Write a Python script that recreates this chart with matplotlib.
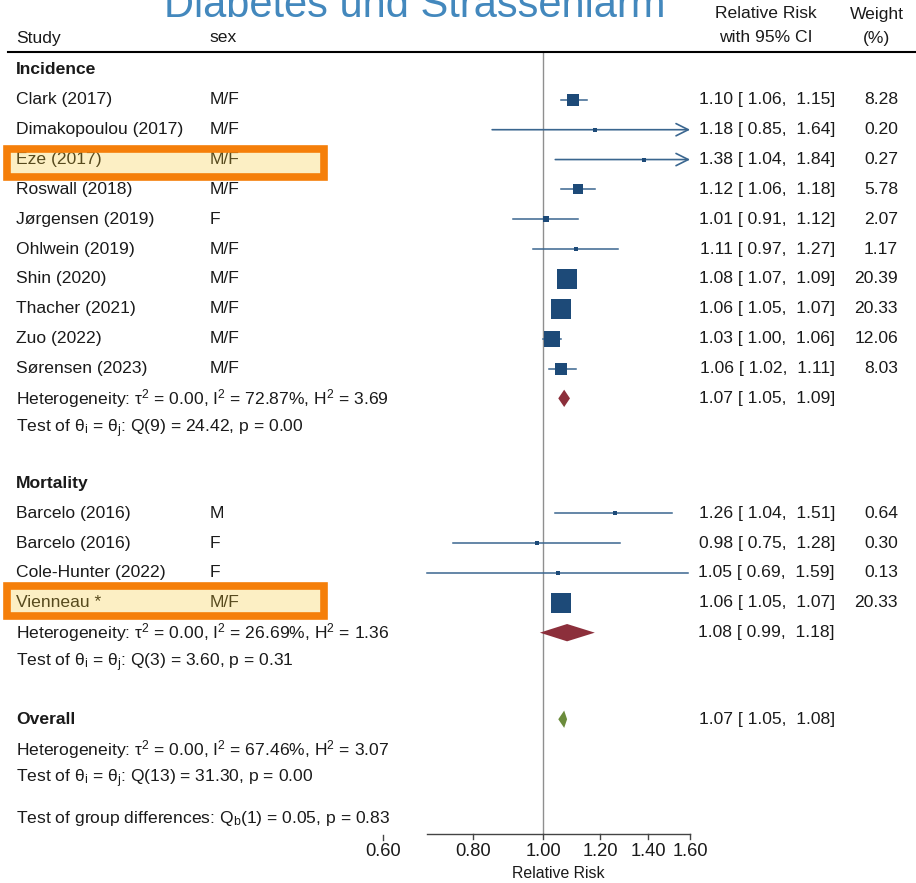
import numpy as np
import matplotlib.pyplot as plt
from matplotlib.patches import Polygon, Rectangle
from matplotlib.transforms import blended_transform_factory

plt.rcParams['font.family'] = ['Liberation Sans', 'DejaVu Sans']
plt.rcParams['mathtext.fontset'] = 'custom'
plt.rcParams['mathtext.rm'] = 'Liberation Sans'
plt.rcParams['mathtext.it'] = 'Liberation Sans:italic'
plt.rcParams['mathtext.default'] = 'regular'


# ---- incidence studies
inc_study = ["Clark (2017)", "Dimakopoulou (2017)", "Eze (2017)", "Roswall (2018)",
             "Jørgensen (2019)", "Ohlwein (2019)", "Shin (2020)", "Thacher (2021)",
             "Zuo (2022)", "Sørensen (2023)"]
inc_sex = ["M/F", "M/F", "M/F", "M/F", "F", "M/F", "M/F", "M/F", "M/F", "M/F"]
inc_rr = [1.10, 1.18, 1.38, 1.12, 1.01, 1.11, 1.08, 1.06, 1.03, 1.06]
inc_lo = [1.06, 0.85, 1.04, 1.06, 0.91, 0.97, 1.07, 1.05, 1.00, 1.02]
inc_hi = [1.15, 1.64, 1.84, 1.18, 1.12, 1.27, 1.09, 1.07, 1.06, 1.11]
inc_wt = [8.28, 0.20, 0.27, 5.78, 2.07, 1.17, 20.39, 20.33, 12.06, 8.03]
inc_pool = [1.07, 1.05, 1.09]
inc_het = r"Heterogeneity: $\tau^2$ = 0.00, I$^2$ = 72.87%, H$^2$ = 3.69"
inc_test = r"Test of $\theta_i$ = $\theta_j$: Q(9) = 24.42, p = 0.00"

# ---- mortality studies
mort_study = ["Barcelo (2016)", "Barcelo (2016)", "Cole-Hunter (2022)", "Vienneau *"]
mort_sex = ["M", "F", "F", "M/F"]
mort_rr = [1.26, 0.98, 1.05, 1.06]
mort_lo = [1.04, 0.75, 0.69, 1.05]
mort_hi = [1.51, 1.28, 1.59, 1.07]
mort_wt = [0.64, 0.30, 0.13, 20.33]
mort_pool = [1.08, 0.99, 1.18]
mort_het = r"Heterogeneity: $\tau^2$ = 0.00, I$^2$ = 26.69%, H$^2$ = 1.36"
mort_test = r"Test of $\theta_i$ = $\theta_j$: Q(3) = 3.60, p = 0.31"

# ---- overall
all_pool = [1.07, 1.05, 1.08]
all_het = r"Heterogeneity: $\tau^2$ = 0.00, I$^2$ = 67.46%, H$^2$ = 3.07"
all_test = r"Test of $\theta_i$ = $\theta_j$: Q(13) = 31.30, p = 0.00"
grp_test = r"Test of group differences: Q$_b$(1) = 0.05, p = 0.83"

highlight = ["Eze (2017)", "Vienneau *"]

x_ticks = [0.80, 1.00, 1.20, 1.40, 1.60]
x_extra_tick = 0.60
x_max = 1.60

NAVY = "#1d4a78"
LINE = "#3a668f"
TXT = "#1a1a1a"
FS = 12.6

# ---- page geometry (pixels)
W, H = 916, 883
ROW_PX = 29.85
ROW0_PX = 70
PX_PER_LN = 313
ONE_PX = 543

fig = plt.figure(figsize=(W / 100, H / 100), dpi=100)
ax = fig.add_axes([0, 0, 1, 1])
ax.set_xscale('log')
ax.set_xlim(np.exp(-ONE_PX / PX_PER_LN), np.exp((W - ONE_PX) / PX_PER_LN))
ax.set_ylim((H - ROW0_PX) / ROW_PX, -ROW0_PX / ROW_PX)
ax.axis('off')
tr = blended_transform_factory(ax.transAxes, ax.transData)


def px(x):
    return x / W


def row_of(ypx):
    return (ypx - ROW0_PX) / ROW_PX


def ci_text(rr, lo, hi):
    return f"{rr:.2f} [ {lo:.2f},  {hi:.2f}]"


def draw_study(y, name, sex, rr, lo, hi, wt):
    ax.text(px(16), y, name, transform=tr, fontsize=FS, color=TXT, va='center')
    ax.text(px(210), y, sex, transform=tr, fontsize=FS, color=TXT, va='center')
    ax.text(px(835), y, ci_text(rr, lo, hi), transform=tr,
            fontsize=FS, color=TXT, va='center', ha='right')
    ax.text(px(898), y, f"{wt:.2f}", transform=tr, fontsize=FS, color=TXT,
            va='center', ha='right')
    if hi > x_max:
        ax.annotate('', xy=(x_max, y), xytext=(lo, y),
                    arrowprops=dict(arrowstyle='->', color=LINE, lw=1.2,
                                    shrinkA=0, shrinkB=0, mutation_scale=22))
    else:
        ax.plot([lo, hi], [y, y], color=LINE, lw=1.1, zorder=2)
    ax.scatter([rr], [y], marker='s', s=max(10.2 * wt, 5), color=NAVY,
               linewidths=0, zorder=3)


def draw_pool(y, est, color):
    rr, lo, hi = est
    h = 0.29
    ax.add_patch(Polygon([(lo, y), (rr, y - h), (hi, y), (rr, y + h)],
                         closed=True, facecolor=color, edgecolor='none', zorder=3))
    ax.text(px(835), y, ci_text(rr, lo, hi), transform=tr,
            fontsize=FS, color=TXT, va='center', ha='right')


def stat_line(y, s):
    ax.text(px(16), y, s, transform=tr, fontsize=FS, color=TXT, va='center')


# ---- title and header
ax.text(px(415), row_of(17), "Diabetes und Strassenlärm", transform=tr,
        fontsize=30, color="#4388bd", ha='center', va='baseline')
ax.text(px(16), row_of(38), "Study", transform=tr, fontsize=FS, color=TXT, va='center')
ax.text(px(210), row_of(38), "sex", transform=tr, fontsize=FS, color=TXT, va='center')
ax.text(px(766), row_of(14), "Relative Risk", transform=tr, fontsize=FS,
        color=TXT, va='center', ha='center')
ax.text(px(766), row_of(38), "with 95% CI", transform=tr, fontsize=FS,
        color=TXT, va='center', ha='center')
ax.text(px(877), row_of(14), "Weight", transform=tr, fontsize=FS, color=TXT,
        va='center', ha='center')
ax.text(px(877), row_of(38), "(%)", transform=tr, fontsize=FS, color=TXT,
        va='center', ha='center')
header_y = row_of(52)
ax.plot([px(8), 1], [header_y, header_y], transform=tr, color='black', lw=1.5)

# ---- incidence block
y = 0.0
ax.text(px(16), y, "Incidence", transform=tr, fontsize=FS, color=TXT,
        va='center', fontweight='bold')
rows = {}
for i in range(len(inc_study)):
    y += 1
    draw_study(y, inc_study[i], inc_sex[i], inc_rr[i], inc_lo[i], inc_hi[i], inc_wt[i])
    rows[inc_study[i]] = y
y += 1
draw_pool(y, inc_pool, "#8c2f3b")
stat_line(y, inc_het)
y += 1
stat_line(y, inc_test)

# ---- mortality block
y += 1.85
ax.text(px(16), y, "Mortality", transform=tr, fontsize=FS, color=TXT,
        va='center', fontweight='bold')
for i in range(len(mort_study)):
    y += 1
    draw_study(y, mort_study[i], mort_sex[i], mort_rr[i], mort_lo[i], mort_hi[i], mort_wt[i])
    rows[mort_study[i]] = y
y += 1
draw_pool(y, mort_pool, "#8c2f3b")
stat_line(y, mort_het)
y += 1
stat_line(y, mort_test)

# ---- overall
y += 1.9
ax.text(px(16), y, "Overall", transform=tr, fontsize=FS, color=TXT,
        va='center', fontweight='bold')
draw_pool(y, all_pool, "#6b8c3c")
y += 1
stat_line(y, all_het)
y += 1
stat_line(y, all_test)
y += 1.34
stat_line(y, grp_test)
y_last = y

# ---- reference line and x axis
axis_y = y_last + 0.5
ax.plot([1, 1], [header_y, axis_y], color="#8f8f8f", lw=1, zorder=1)
x_lo = min(inc_lo + mort_lo)
ax.plot([x_lo, x_max], [axis_y, axis_y], color="#444444", lw=1)
tick_len = 0.17
for t in x_ticks:
    ax.plot([t, t], [axis_y, axis_y + tick_len], color="#444444", lw=1)
    ax.text(t, axis_y + 0.6, f"{t:.2f}", fontsize=FS + 0.6, color=TXT,
            ha='center', va='center')
ax.plot([x_extra_tick] * 2, [axis_y + 0.04, axis_y + 0.04 + tick_len],
        color="#444444", lw=1)
ax.text(x_extra_tick, axis_y + 0.6, f"{x_extra_tick:.2f}", fontsize=FS + 0.6,
        color=TXT, ha='center', va='center')
ax.text(np.sqrt(x_lo * x_max), axis_y + 1.32, "Relative Risk", fontsize=FS - 1.2,
        color=TXT, ha='center', va='center')

# ---- highlighted studies (translucent marker over the row text)
for name, (top, bot) in zip(highlight, [(-0.37, 0.6), (-0.55, 0.45)]):
    yr = rows[name]
    ax.add_patch(Rectangle((px(7), yr + top), px(317), bot - top, transform=tr,
                           facecolor=(0.97, 0.79, 0.17, 0.28),
                           edgecolor="#f57f0a", lw=5.5, zorder=5))

fig.savefig("out.png", dpi=100)
